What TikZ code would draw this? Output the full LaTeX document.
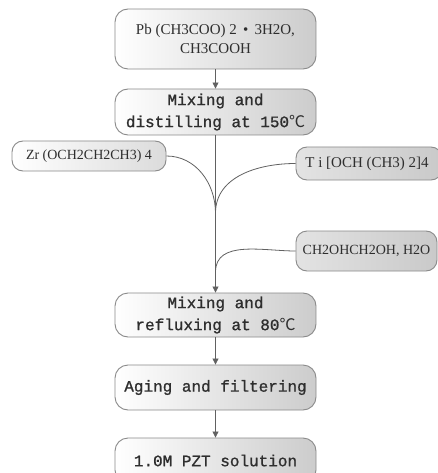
\documentclass[tikz,border=0pt]{standalone}
\usepackage{fontspec}
\setmainfont{Liberation Serif}
\newfontfamily\monof[FakeBold=1]{Liberation Mono}
\newfontfamily\cjk{Noto Sans CJK SC}
\usetikzlibrary{arrows.meta}
\definecolor{txt}{HTML}{2E2E2E}
\definecolor{edge}{HTML}{8A8A8A}
\tikzset{
  stepbox/.style={draw=edge, line width=0.9pt, rounded corners=13pt, left color=white, right color=gray!40,
    minimum width=201pt, align=center, inner sep=2pt, text=txt},
  inbox/.style={draw=edge, line width=0.9pt, rounded corners=11pt, left color=white, right color=gray!28,
    align=center, inner sep=2pt, text=txt, font=\fontsize{14}{17}\selectfont},
  greybox/.style={inbox, left color=gray!22, right color=gray!42},
  monotext/.style={font=\monof\fontsize{16}{22}\selectfont},
  formtext/.style={font=\fontsize{15}{19}\selectfont},
  conn/.style={draw=edge!70!black, line width=0.8pt},
  arr/.style={conn, -{Triangle[length=6pt,width=6pt]}},
}
\begin{document}
\begin{tikzpicture}[x=1pt,y=-1pt]
\clip (0,0) rectangle (438,473);
\fill[white] (0,0) rectangle (438,473);

\node[stepbox, formtext, minimum height=60pt] (b1) at (215.5,39)
  {Pb (CH3COO) 2 \,•\, 3H2O,\\CH3COOH};
\node[stepbox, monotext, minimum height=46pt] (b2) at (215.5,112)
  {Mixing and\\distilling at 150{\cjk ℃}};
\node[inbox, minimum width=154pt, minimum height=30pt] (zr) at (89,156)
  {Zr (OCH2CH2CH3) 4};
\node[greybox, formtext, minimum width=146pt, minimum height=33pt] (ti) at (369,163.5)
  {T i [OCH (CH3) 2]4\hspace{4pt}};
\node[greybox, minimum width=141pt, minimum height=40pt] (eg) at (366.5,251)
  {CH2OHCH2OH, H2O};
\node[stepbox, monotext, minimum height=44pt] (b3) at (215.5,315)
  {Mixing and\\refluxing at 80{\cjk ℃}};
\node[stepbox, monotext, minimum height=45pt] (b4) at (215.5,387.5)
  {Aging and filtering};
\node[stepbox, monotext, minimum height=45pt] (b5) at (215.5,460.5)
  {1.0M PZT solution};

\coordinate (m1) at (215.5,213);
\coordinate (m2) at (215.5,272);

\draw[arr] (b1) -- (b2);
\draw[arr] (b2) -- (b3);
\draw[conn] (zr.east) to[out=0,in=90] (m1);
\draw[conn] (ti.west) to[out=180,in=90] (m1);
\draw[conn] (eg.west) to[out=180,in=90] (m2);
\draw[arr] (b3) -- (b4);
\draw[arr] (b4) -- (b5);
\end{tikzpicture}
\end{document}
